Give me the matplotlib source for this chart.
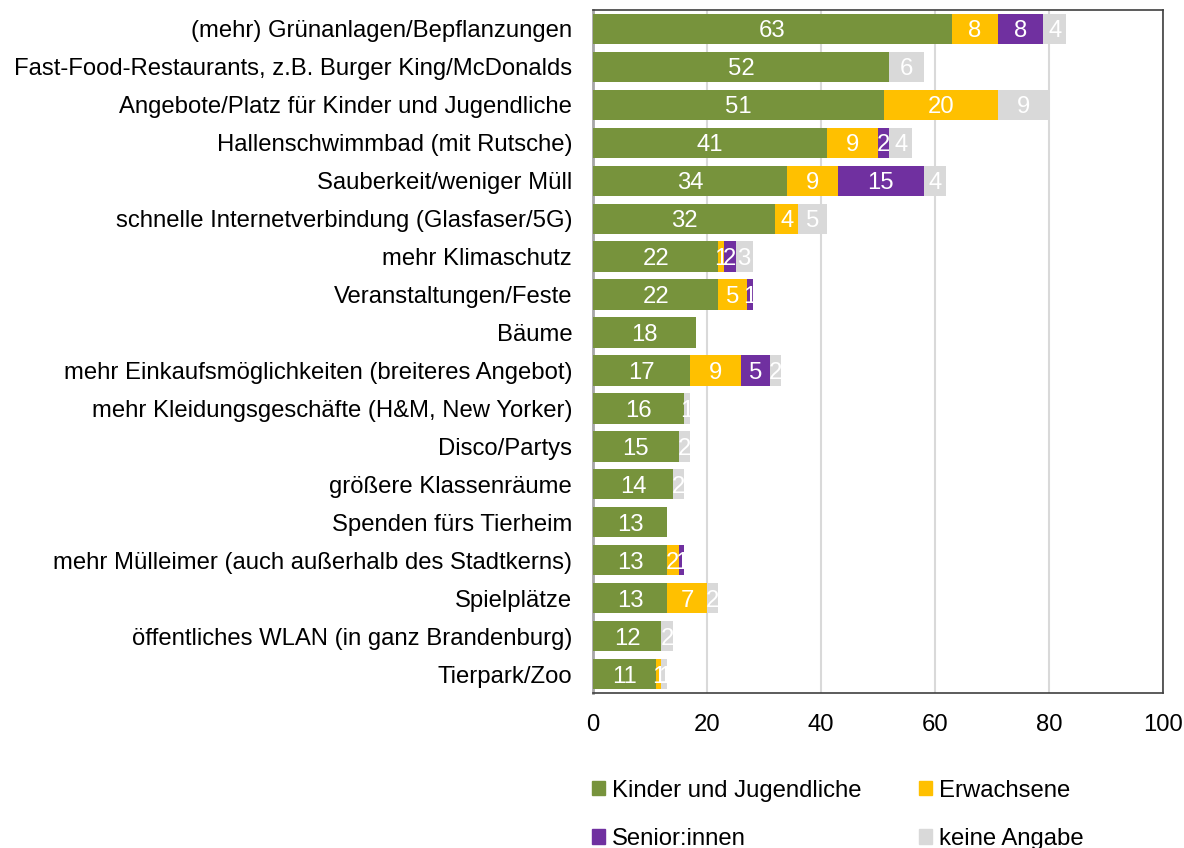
import matplotlib
matplotlib.use("Agg")
import matplotlib.pyplot as plt
from matplotlib.patches import Patch
import numpy as np

plt.rcParams['font.family'] = ['Liberation Sans', 'DejaVu Sans']

categories = [
    "(mehr) Grünanlagen/Bepflanzungen",
    "Fast-Food-Restaurants, z.B. Burger King/McDonalds",
    "Angebote/Platz für Kinder und Jugendliche",
    "Hallenschwimmbad (mit Rutsche)",
    "Sauberkeit/weniger Müll",
    "schnelle Internetverbindung (Glasfaser/5G)",
    "mehr Klimaschutz",
    "Veranstaltungen/Feste",
    "Bäume",
    "mehr Einkaufsmöglichkeiten (breiteres Angebot)",
    "mehr Kleidungsgeschäfte (H&M, New Yorker)",
    "Disco/Partys",
    "größere Klassenräume",
    "Spenden fürs Tierheim",
    "mehr Mülleimer (auch außerhalb des Stadtkerns)",
    "Spielplätze",
    "öffentliches WLAN (in ganz Brandenburg)",
    "Tierpark/Zoo",
]
kinder = [63, 52, 51, 41, 34, 32, 22, 22, 18, 17, 16, 15, 14, 13, 13, 13, 12, 11]
erwachsene = [8, 0, 20, 9, 9, 4, 1, 5, 0, 9, 0, 0, 0, 0, 2, 7, 0, 1]
senioren = [8, 0, 0, 2, 15, 0, 2, 1, 0, 5, 0, 0, 0, 0, 1, 0, 0, 0]
keine = [4, 6, 9, 4, 4, 5, 3, 0, 0, 2, 1, 2, 2, 0, 0, 2, 2, 1]

series_names = ["Kinder und Jugendliche", "Erwachsene", "Senior:innen", "keine Angabe"]
colors = ["#77933C", "#FFC000", "#7030A0", "#D9D9D9"]
series = [kinder, erwachsene, senioren, keine]

fig = plt.figure(figsize=(11.84, 8.48), dpi=100)
ax = fig.add_axes([593/1184, 1 - 693/848, (1163-593)/1184, (693-10)/848])

y = np.arange(len(categories))
left = np.zeros(len(categories))
fs = 17.2
for vals, col, name in zip(series, colors, series_names):
    vals = np.array(vals, dtype=float)
    ax.barh(y, vals, left=left, color=col, height=0.8, label=name, zorder=3)
    for yi, (l, v) in enumerate(zip(left, vals)):
        if v > 0:
            ax.text(l + v / 2, yi, f"{int(v)}", ha="center", va="center_baseline",
                    color="white", fontsize=fs, zorder=4)
    left += vals

ax.set_ylim(len(categories) - 0.5, -0.5)
ax.set_xlim(0, 100)
ax.set_xticks([0, 20, 40, 60, 80, 100])
ax.set_yticks(y)
ax.set_yticklabels(categories, fontsize=fs)
ax.tick_params(axis="x", labelsize=fs, length=0, pad=15)
ax.tick_params(axis="y", length=0, pad=15)
ax.grid(axis="x", color="#D9D9D9", linewidth=1.5, zorder=0)
for s in ax.spines.values():
    s.set_color("#404040")
    s.set_linewidth(1.2)
ax.spines["left"].set_color("#A6A6A6")
ax.spines["left"].set_linewidth(2)

# row-wise legend order: Kinder, Erwachsene / Senior:innen, keine Angabe
order = [0, 2, 1, 3]
handles = [Patch(color=colors[i], label=series_names[i]) for i in order]
fig.legend(handles=handles, ncol=2, loc="upper left",
           bbox_to_anchor=(582/1184, 1 - 770/848), frameon=False,
           fontsize=fs, handlelength=0.55, handleheight=0.55, handletextpad=0.3,
           columnspacing=2.4, labelspacing=1.1, borderaxespad=0)

fig.savefig("out.png", dpi=100)
